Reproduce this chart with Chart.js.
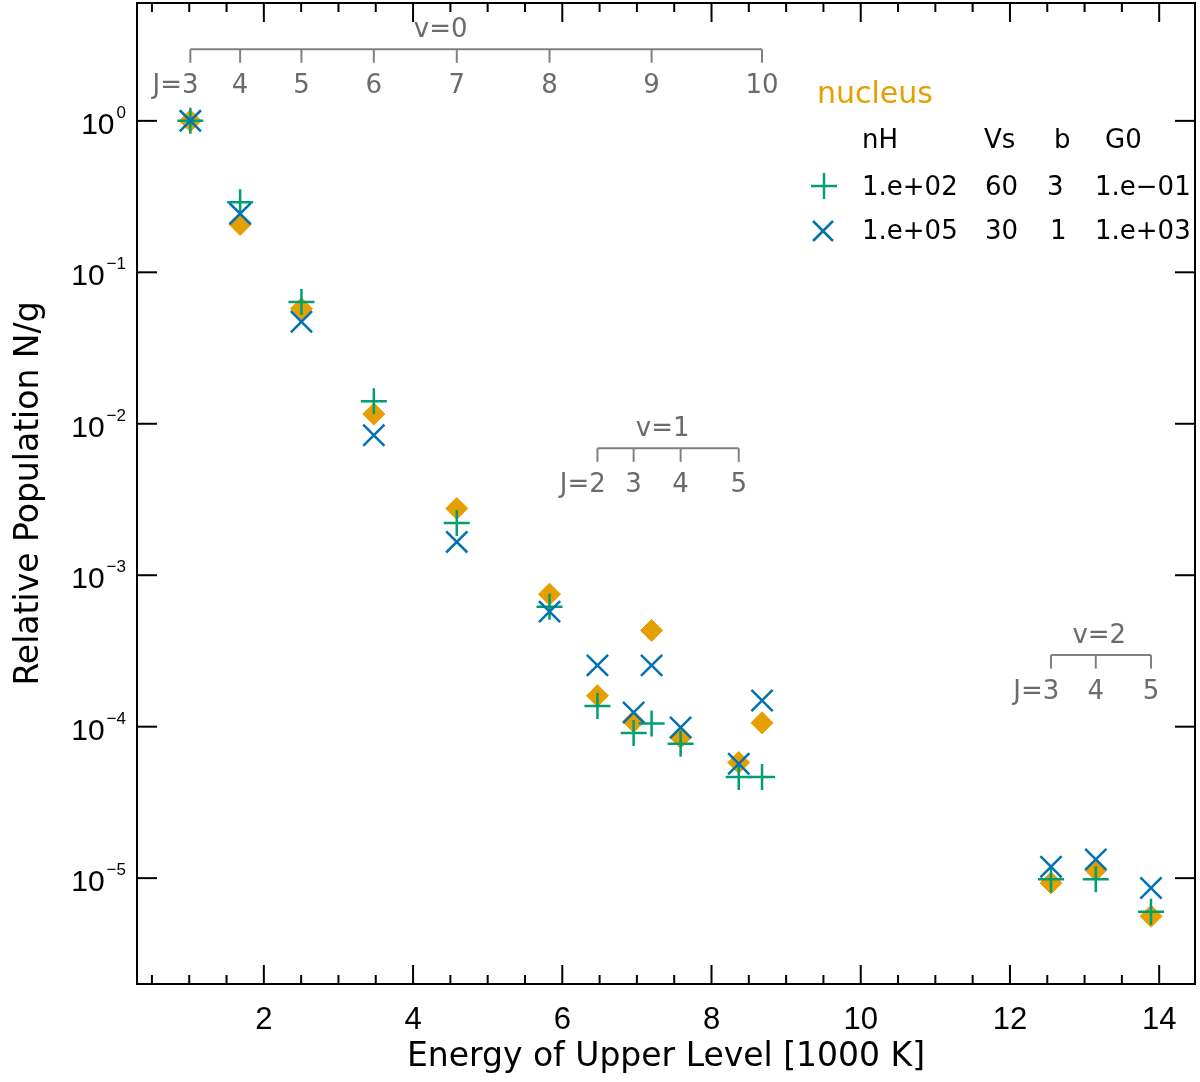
<!DOCTYPE html>
<html lang="en">
<head>
<meta charset="UTF-8">
<title>H2 excitation diagram</title>
<script src="https://cdn.jsdelivr.net/npm/chart.js"></script>
<style>
  html, body { margin: 0; padding: 0; background: #fff; }
  #wrap { width: 1200px; height: 1082px; }
</style>
</head>
<body>
<div id="wrap"><canvas id="chart"></canvas></div>
<script>
// Upper levels of the H2 lines (energy in 1000 K)
const levelEnergy = [1.015, 1.682, 2.504, 3.474, 4.586, 5.829, 7.197, 8.677,
                     6.471, 6.956, 7.586, 8.365,
                     12.55, 13.15, 13.89];
const levelV = [0, 0, 0, 0, 0, 0, 0, 0, 1, 1, 1, 1, 2, 2, 2];
const levelJ = [3, 4, 5, 6, 7, 8, 9, 10, 2, 3, 4, 5, 3, 4, 5];

// Relative populations N/g
const nucleusPop = [1.0, 0.207, 0.0575, 0.0116, 0.00276, 7.5e-4, 4.32e-4, 1.06e-4,
                    1.6e-4, 1.08e-4, 8.5e-5, 5.8e-5,
                    9.3e-6, 1.13e-5, 5.6e-6];
const model1Pop = [1.0, 0.29, 0.0637, 0.0141, 0.00221, 6.2e-4, 1.05e-4, 4.66e-5,
                   1.37e-4, 9.1e-5, 7.7e-5, 4.66e-5,
                   9.85e-6, 9.85e-6, 6.0e-6];
const model2Pop = [1.0, 0.244, 0.0472, 0.0084, 0.00166, 5.75e-4, 2.54e-4, 1.49e-4,
                   2.54e-4, 1.24e-4, 9.87e-5, 5.7e-5,
                   1.19e-5, 1.33e-5, 8.6e-6];

// Axis ticks
const xTickValues = [2, 4, 6, 8, 10, 12, 14];
const yTickExponents = [-5, -4, -3, -2, -1, 0];

// Legend table
const legendTitle = 'nucleus';
const legendHeader = ['nH', 'Vs', 'b', 'G0'];
const model1Params = ['1.e+02', '60', '3', '1.e\u221201'];
const model2Params = ['1.e+05', '30', '1', '1.e+03'];

// vibrational ladders drawn as brackets above the points
const bracketV = [0, 1, 2];
const bracketAnchor = [2.97, 6.88e-3, 2.97e-4];   // y value of the bracket bar

const ORANGE = '#E69F00', GREEN = '#009E73', BLUE = '#0072B2';
const GREY_LINE = '#808080', GREY_TEXT = '#6b6b6b';
const TXT = '"DejaVu Sans", sans-serif';
const NUM = '"Liberation Sans", Arial, sans-serif';

function points(pop) {
    return levelEnergy.map((e, i) => ({ x: e, y: pop[i] }));
}

function line(ctx, x1, y1, x2, y2) {
    ctx.beginPath();
    ctx.moveTo(x1, y1);
    ctx.lineTo(x2, y2);
    ctx.stroke();
}

// frame, inward ticks, y labels, level brackets and legend
const decorations = {
    id: 'decorations',
    afterDatasetsDraw(chart) {
        const { ctx, chartArea: a, scales: { x, y } } = chart;
        ctx.save();

        // frame
        ctx.strokeStyle = '#000';
        ctx.lineWidth = 2;
        ctx.strokeRect(a.left, a.top, a.right - a.left, a.bottom - a.top);

        // x ticks, top and bottom
        for (let v = 0.5; v <= x.max; v += 0.5) {
            if (v < x.min) continue;
            const px = x.getPixelForValue(v);
            const len = xTickValues.includes(v) ? 19 : 9;
            line(ctx, px, a.bottom, px, a.bottom - len);
            line(ctx, px, a.top, px, a.top + len);
        }

        // y ticks and labels 10^n
        yTickExponents.forEach(e => {
            const py = y.getPixelForValue(Math.pow(10, e));
            line(ctx, a.left, py, a.left + 20, py);
            line(ctx, a.right, py, a.right - 20, py);

            const exp = e < 0 ? '\u2212' + (-e) : String(e);
            ctx.fillStyle = '#000';
            ctx.textBaseline = 'alphabetic';
            ctx.textAlign = 'right';
            ctx.font = '17px ' + NUM;
            const right = a.left - 11;
            ctx.fillText(exp, right, py - 3);
            const ew = ctx.measureText(exp).width;
            ctx.font = '30px ' + NUM;
            ctx.fillText('10', right - ew - 2, py + 13);
        });

        // level brackets
        ctx.strokeStyle = GREY_LINE;
        ctx.fillStyle = GREY_TEXT;
        ctx.lineWidth = 2;
        bracketV.forEach((v, k) => {
            const idx = levelV.map((lv, i) => lv === v ? i : -1).filter(i => i >= 0);
            const xs = idx.map(i => x.getPixelForValue(levelEnergy[i]));
            const by = y.getPixelForValue(bracketAnchor[k]);
            line(ctx, Math.min(...xs), by, Math.max(...xs), by);
            xs.forEach(px => line(ctx, px, by, px, by + 13.5));

            ctx.font = '26px ' + TXT;
            ctx.textBaseline = 'middle';
            idx.forEach((i, n) => {
                const px = xs[n];
                const label = String(levelJ[i]);
                ctx.textAlign = 'center';
                ctx.fillText(label, px, by + 37);
                if (n === 0) {
                    const w = ctx.measureText(label).width;
                    ctx.textAlign = 'right';
                    ctx.fillText('J=', px - w / 2, by + 37);
                }
            });
            const meanE = idx.reduce((s, i) => s + levelEnergy[i], 0) / idx.length;
            ctx.textAlign = 'center';
            ctx.fillText('v=' + v, x.getPixelForValue(meanE), by - 19);
        });

        // legend table
        ctx.textAlign = 'left';
        ctx.textBaseline = 'middle';
        ctx.fillStyle = ORANGE;
        ctx.font = '30px ' + TXT;
        ctx.fillText(legendTitle, 817, 95);

        ctx.fillStyle = '#000';
        ctx.font = '26px ' + TXT;
        const headX = [862, 984, 1054, 1105];
        legendHeader.forEach((t, i) => ctx.fillText(t, headX[i], 141));
        const colX = [862, 985, 1047, 1095];
        model1Params.forEach((t, i) => ctx.fillText(t, colX[i], 188));
        model2Params.forEach((t, i) => ctx.fillText(t, colX[i] + (i === 2 ? 3 : 0), 232));

        ctx.lineWidth = 2.5;
        ctx.strokeStyle = GREEN;
        line(ctx, 811, 186, 837, 186);
        line(ctx, 824, 173, 824, 199);
        ctx.strokeStyle = BLUE;
        line(ctx, 813, 221, 833, 241);
        line(ctx, 813, 241, 833, 221);

        ctx.restore();
    }
};

Chart.defaults.font.family = TXT;
Chart.defaults.color = '#000';

new Chart(document.getElementById('chart'), {
    type: 'scatter',
    data: {
        datasets: [
            {
                label: 'nucleus',
                data: points(nucleusPop),
                pointStyle: 'rectRot',
                pointRadius: 11,
                backgroundColor: ORANGE,
                borderColor: ORANGE,
                borderWidth: 1,
                order: 3
            },
            {
                label: 'model 1',
                data: points(model1Pop),
                pointStyle: 'cross',
                pointRadius: 13,
                borderColor: GREEN,
                backgroundColor: GREEN,
                borderWidth: 2.5,
                order: 2
            },
            {
                label: 'model 2',
                data: points(model2Pop),
                pointStyle: 'crossRot',
                pointRadius: 15,
                borderColor: BLUE,
                backgroundColor: BLUE,
                borderWidth: 2.5,
                order: 1
            }
        ]
    },
    options: {
        responsive: true,
        maintainAspectRatio: false,
        animation: false,
        layout: { autoPadding: false, padding: { top: 3, right: 5, left: 0, bottom: 0 } },
        plugins: {
            legend: { display: false },
            tooltip: { enabled: false }
        },
        scales: {
            x: {
                type: 'linear',
                min: 0.3,
                max: 14.48,
                afterBuildTicks: s => { s.ticks = xTickValues.map(v => ({ value: v })); },
                afterFit: s => { s.height = 98; },
                grid: { display: false, drawTicks: false },
                border: { display: false },
                ticks: {
                    autoSkip: false,
                    maxRotation: 0,
                    padding: 18,
                    color: '#000',
                    font: { family: NUM, size: 31 },
                    callback: v => String(v)
                },
                title: {
                    display: true,
                    text: 'Energy of Upper Level [1000 K]',
                    color: '#000',
                    font: { family: TXT, size: 33 },
                    padding: { top: 0, bottom: 5 }
                }
            },
            y: {
                type: 'logarithmic',
                min: 2e-6,
                max: 6,
                afterFit: s => { s.width = 137; },
                grid: { display: false, drawTicks: false },
                border: { display: false },
                ticks: { display: false },
                title: {
                    display: true,
                    text: 'Relative Population N/g',
                    color: '#000',
                    font: { family: TXT, size: 33 },
                    padding: { top: 10, bottom: 0 }
                }
            }
        }
    },
    plugins: [decorations]
});
</script>
</body>
</html>
